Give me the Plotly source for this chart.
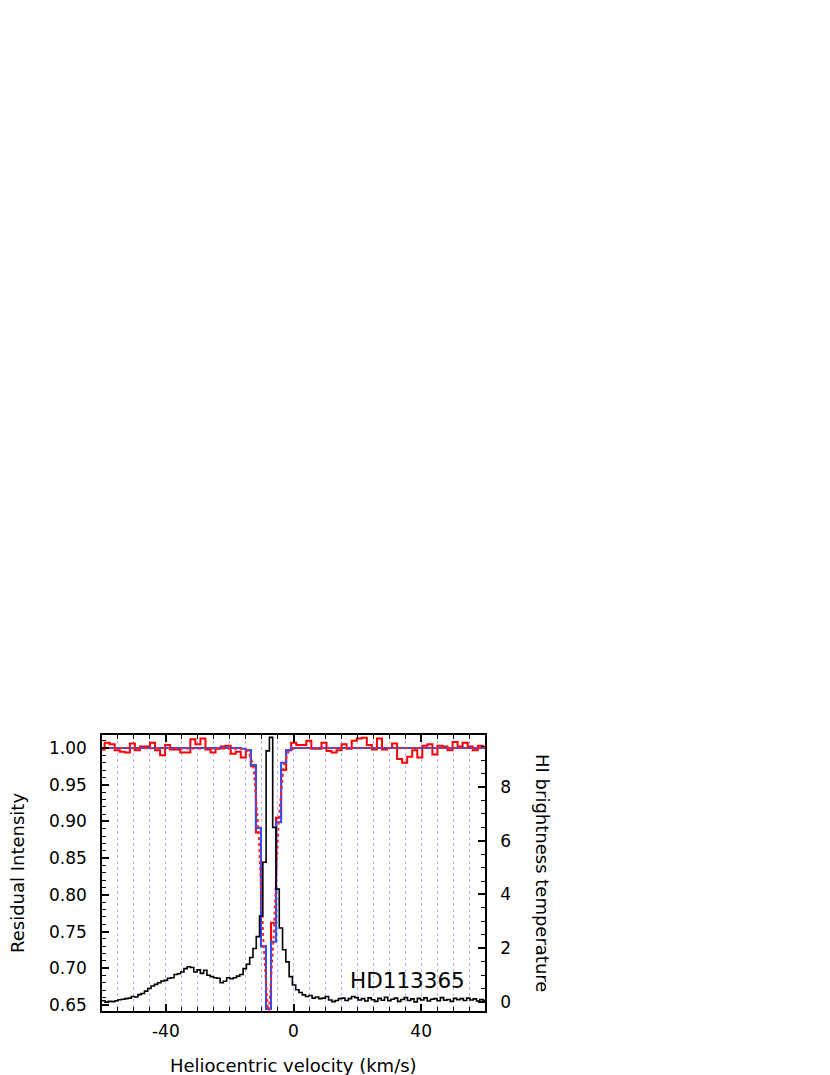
import plotly.graph_objects as go

# observed spectrum (red) and fit (blue), bins of 1.58 km/s starting at -60.76 km/s
spec_start = -60.76
spec_step = 1.58
observed = [0.998, 1.007, 1.005, 0.997, 0.995, 0.994, 1.006, 0.997, 1.002, 1.002,
            1.007, 0.997, 0.990, 1.004, 0.998, 0.998, 0.994, 0.994, 1.012, 1.005,
            1.013, 0.998, 0.994, 0.999, 1.002, 1.003, 0.992, 0.995, 0.987, 0.997,
            0.975, 0.885, 0.730, 0.645, 0.762, 0.905, 0.970,
            0.997, 1.007, 1.004, 1.004, 1.010, 0.999, 0.999, 1.007, 0.996, 0.994,
            0.997, 1.005, 0.999, 1.010, 1.013, 1.014, 1.004, 0.998, 1.013, 0.998,
            1.000, 1.006, 0.985, 0.980, 0.988, 0.997, 0.987, 1.003, 1.005, 0.991,
            1.003, 1.002, 0.997, 1.008, 1.002, 1.007, 1.002, 0.997, 1.003, 1.000]
fit = [1.0] * 28 + [0.999, 0.997,
       0.977, 0.891, 0.730, 0.645, 0.736, 0.899, 0.980,
       0.997] + [1.0] * 39

# smooth model (red dotted)
model_v = [-60, -16.0, -14.15, -12.57, -10.99, -9.41, -7.83, -6.25, -4.67, -3.09, -1.51, 0.5, 60]
model_i = [1.0, 0.999, 0.996, 0.976, 0.890, 0.735, 0.630, 0.740, 0.900, 0.976, 0.996, 1.0, 1.0]

# HI emission (black), 1.03 km/s channels starting at -60.08 km/s
hi_start = -60.08
hi_step = 1.03
hi_temp = [0.04, -0.01, 0.02, 0.01, 0.04, 0.08, 0.10, 0.12, 0.14, 0.20,
           0.18, 0.27, 0.31, 0.40, 0.50, 0.59, 0.65, 0.71, 0.78, 0.80,
           0.88, 0.90, 1.02, 1.05, 1.11, 1.24, 1.31, 1.28, 1.11, 1.19,
           1.06, 1.18, 0.99, 0.94, 0.90, 0.88, 0.71, 0.77, 0.90, 0.86,
           0.90, 0.96, 1.02, 1.24, 1.40, 1.65, 1.99, 2.43, 3.20, 5.20,
           9.35, 9.85, 6.50, 4.20, 2.75, 1.94, 1.49, 0.94, 0.63, 0.45,
           0.35, 0.26, 0.20, 0.24, 0.14, 0.18, 0.12, 0.14, 0.20, 0.07,
           0.01, 0.05, 0.12, 0.14, 0.05, 0.12, 0.20, 0.16, 0.07, 0.12,
           0.03, 0.15, 0.08, 0.02, 0.13, 0.06, 0.17, 0.04, 0.10, 0.14,
           0.02, 0.09, 0.16, 0.05, 0.11, 0.00, 0.13, 0.07, 0.15, 0.03,
           0.10, 0.12, 0.04, 0.16, 0.06, 0.09, 0.02, 0.13, 0.08, 0.12,
           0.05, 0.14, 0.07, 0.11, 0.03, 0.09, 0.06]

star = "HD113365"


def steps(start, step, vals):
    xs = [round(start + step * i, 3) for i in range(len(vals) + 1)]
    return xs, list(vals) + [vals[-1]]


spec_x, obs_y = steps(spec_start, spec_step, observed)
_, fit_y = steps(spec_start, spec_step, fit)
hi_x, hi_y = steps(hi_start, hi_step, hi_temp)

fig = go.Figure()
fig.add_trace(go.Scatter(x=hi_x, y=hi_y, yaxis="y2", mode="lines",
                         line=dict(color="black", width=1.6, shape="hv")))
fig.add_trace(go.Scatter(x=spec_x, y=obs_y, mode="lines",
                         line=dict(color="#ff0000", width=2, shape="hv")))
fig.add_trace(go.Scatter(x=spec_x, y=fit_y, mode="lines",
                         line=dict(color="#2850ff", width=2, shape="hv")))
fig.add_trace(go.Scatter(x=model_v, y=model_i, mode="lines",
                         line=dict(color="#ff2020", width=2, dash="dot")))

grid = "#b4b4ff"
fnt = dict(family="DejaVu Sans", size=17, color="black")

fig.update_layout(
    width=830, height=1075,
    margin=dict(l=94, r=353, t=727, b=72),
    plot_bgcolor="white", paper_bgcolor="white",
    showlegend=False,
    font=fnt,
    xaxis=dict(
        range=[-60, 60], tickvals=[-40, 0, 40], ticktext=["-40", "0", "40"],
        ticks="inside", ticklen=7, tickwidth=1.5, tickcolor="black",
        showline=True, linewidth=1.5, linecolor="black", mirror="ticks",
        showgrid=True, gridcolor=grid, griddash="dot", gridwidth=1,
        zeroline=False, ticklabelstandoff=4, automargin=False,
        minor=dict(dtick=5, ticks="inside", ticklen=4, tickwidth=1.2, tickcolor="black",
                   showgrid=True, gridcolor=grid, griddash="dot", gridwidth=1),
    ),
    yaxis=dict(
        range=[0.6418, 1.0177], dtick=0.05, tickformat=".2f",
        ticks="inside", ticklen=7, tickwidth=1.5, tickcolor="black",
        showline=True, linewidth=1.5, linecolor="black",
        showgrid=False, zeroline=False, ticklabelstandoff=10, automargin=False,
        minor=dict(dtick=0.01, ticks="inside", ticklen=4, tickwidth=1.2, tickcolor="black"),
    ),
    yaxis2=dict(
        overlaying="y", side="right", range=[-0.34, 9.94], dtick=2,
        ticks="inside", ticklen=7, tickwidth=1.5, tickcolor="black",
        showline=True, linewidth=1.5, linecolor="black",
        showgrid=False, zeroline=False, ticklabelstandoff=10, automargin=False,
        minor=dict(dtick=0.5, ticks="inside", ticklen=4, tickwidth=1.2, tickcolor="black"),
    ),
    annotations=[
        dict(text=star, xref="paper", yref="paper", x=0.952, y=0.112,
             xanchor="right", yanchor="middle", showarrow=False,
             font=dict(size=21.5)),
        dict(text="Heliocentric velocity (km/s)", xref="paper", yref="paper",
             x=0.5, y=0, yshift=-54, showarrow=False,
             xanchor="center", yanchor="middle", font=dict(size=18)),
        dict(text="Residual Intensity", xref="paper", yref="paper",
             x=0, xshift=-85, y=0.5, textangle=-90, showarrow=False,
             xanchor="center", yanchor="middle", font=dict(size=18)),
        dict(text="HI brightness temperature", xref="paper", yref="paper",
             x=1.0, xshift=58, y=0.5, textangle=90, showarrow=False,
             xanchor="center", yanchor="middle", font=dict(size=18)),
    ],
)

fig.write_html("out.html")
